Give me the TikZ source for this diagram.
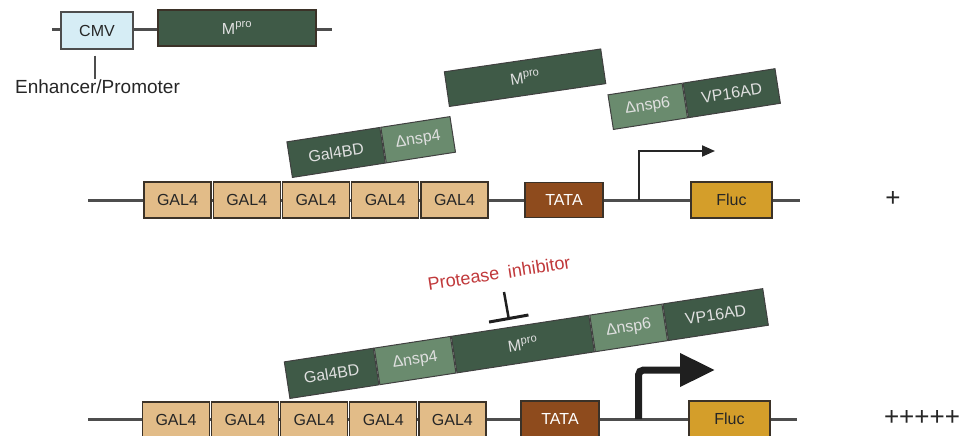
\documentclass[tikz,border=0pt]{standalone}
\usepackage{fontspec}
\setmainfont{Liberation Sans}
\usetikzlibrary{arrows.meta}

\definecolor{dnagray}{HTML}{4D4D4D}
\definecolor{boxedge}{HTML}{3B3228}
\definecolor{cmvblue}{HTML}{D6EDF5}
\definecolor{protdark}{HTML}{3F5A47}
\definecolor{protlight}{HTML}{6A8B6E}
\definecolor{galtan}{HTML}{E2BC88}
\definecolor{tatabrown}{HTML}{8E4B1D}
\definecolor{flucgold}{HTML}{D49E2A}
\definecolor{inhred}{HTML}{C0383A}

\tikzset{
    backbone/.style={draw=dnagray, line width=3pt},
    part/.style={draw=boxedge, line width=1.2pt, inner sep=0pt, minimum height=36pt,
        font=\fontsize{16}{18}\selectfont},
    galbox/.style={part, fill=galtan, minimum width=67pt, text=black!85},
    tatabox/.style={part, fill=tatabrown, minimum width=78pt, text=white},
    flucbox/.style={part, fill=flucgold, minimum width=81pt, text=black!85},
    prot/.style={draw=black!75, line width=1pt, inner sep=0pt, minimum height=36pt,
        anchor=south west, rotate=#1, text=white!88!black,
        font=\fontsize{16}{18}\selectfont},
    protdk/.style={prot=#1, fill=protdark},
    protlt/.style={prot=#1, fill=protlight},
    promoter/.style={draw=black!85, line width=2pt, -{Triangle[length=13pt,width=11pt]}},
    strongpromoter/.style={draw=black!88, line width=7pt, rounded corners=5pt,
        -{Triangle[length=35pt,width=32pt]}},
    blockbar/.style={draw=black!88, line width=2.5pt, -{Bar[width=40pt,line width=3pt]}},
    score/.style={font=\fontsize{26}{28}\selectfont, text=black!85},
}

\begin{document}
\begin{tikzpicture}[x=1pt,y=-1pt]
    \useasboundingbox (0,0) rectangle (970,436);
    \clip (0,0) rectangle (970,436);

    % expression vector
    \coordinate (v0) at (52,30);
    \coordinate (v1) at (332,30);
    \draw[backbone] (v0) -- (v1);
    \node[part, draw=dnagray, fill=cmvblue, minimum width=72pt, minimum height=37pt, text=black!85] (cmv) at (97,30.5) {CMV};
    \node[part, fill=protdark, minimum width=158pt, text=white!88!black] (mproV) at (237,28) {M\textsuperscript{pro}};
    \node[anchor=base, font=\fontsize{19}{21}\selectfont, text=black!85] (enh) at (97.5,94) {Enhancer/Promoter};
    \draw[dnagray, line width=2pt] ([xshift=-2pt,yshift=-6pt]cmv.south) -- ([xshift=-2.5pt,yshift=-2pt]enh.north);

    % reporter, cleaved
    \coordinate (r1a) at (88,200);
    \coordinate (r1b) at (800,200);
    \draw[backbone] (r1a) -- (r1b);
    \foreach \i in {1,...,5}
        \node[galbox] (gA\i) at ({177.5+69.25*(\i-1)},200) {GAL4};
    \node[tatabox, minimum height=35pt] (tataA) at (564,200) {TATA};
    \node[flucbox] (flucA) at (731.5,200) {Fluc};
    \coordinate (tssA) at (639,200);
    \coordinate (tssAend) at (715,151);
    \draw[promoter] (tssA) |- (tssAend);
    \node[score] (scoreA) at (893,199) {+};

    \node[protdk=8.8, minimum width=94pt] (gbdA) at (292,178) {Gal4BD};
    \node[protlt=8.8, minimum width=70pt] (nsp4A) at (gbdA.south east) {Δnsp4};
    \node[protdk=8.3, minimum width=158pt, minimum height=35pt] (mproA) at (449,107) {M\textsuperscript{pro}};
    \node[protlt=8.9, minimum width=75pt, minimum height=35pt] (nsp6A) at (613,130) {Δnsp6};
    \node[protdk=8.9, minimum width=93pt, minimum height=35pt] (vp16A) at (nsp6A.south east) {VP16AD};

    % reporter, inhibited
    \coordinate (r2a) at (88,419);
    \coordinate (r2b) at (797,419);
    \draw[backbone] (r2a) -- (r2b);
    \foreach \i in {1,...,5}
        \node[galbox] (gB\i) at ({176+69.1*(\i-1)},420) {GAL4};
    \node[tatabox] (tataB) at (560,419) {TATA};
    \node[flucbox] (flucB) at (729.5,419) {Fluc};
    \coordinate (tssB) at (638.5,419);
    \coordinate (tssBend) at (715,370);
    \draw[strongpromoter] (tssB) |- (tssBend);
    \node[score] (scoreB) at (922,418) {+++++};

    \node[protdk=8.7, minimum width=90pt, minimum height=37pt] (gbdB) at (289.5,399) {Gal4BD};
    \node[protlt=8.7, minimum width=77pt, minimum height=37pt] (nsp4B) at (gbdB.south east) {Δnsp4};
    \node[protdk=8.7, minimum width=139pt, minimum height=37pt] (mproB) at (nsp4B.south east) {M\textsuperscript{pro}};
    \node[protlt=8.7, minimum width=73pt, minimum height=37pt] (nsp6B) at (mproB.south east) {Δnsp6};
    \node[protdk=8.7, minimum width=101pt, minimum height=37pt] (vp16B) at (nsp6B.south east) {VP16AD};

    \node[rotate=8.7, text=inhred, font=\fontsize{18}{20}\selectfont] (inhib) at (499,273) {Protease\hspace{4pt} inhibitor};
    \coordinate (inhA) at (504,292);
    \coordinate (inhB) at (509,320);
    \draw[blockbar] (inhA) -- (inhB);
\end{tikzpicture}
\end{document}
